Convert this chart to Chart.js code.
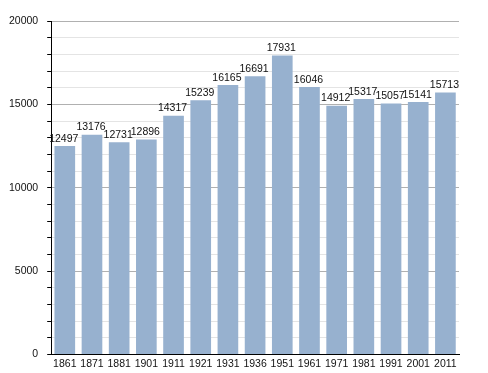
<!DOCTYPE html>
<html>
<head>
<meta charset="utf-8">
<script src="https://cdn.jsdelivr.net/npm/chart.js@4/dist/chart.umd.min.js"></script>
<style>
  html, body { margin: 0; padding: 0; background: #fff; }
  #wrap { width: 488px; height: 373px; }
</style>
</head>
<body>
<div id="wrap"><canvas id="popChart" width="488" height="373"></canvas></div>
<script>
const years = ['1861', '1871', '1881', '1901', '1911', '1921', '1931', '1936', '1951', '1961', '1971', '1981', '1991', '2001', '2011'];
const population = [12497, 13176, 12731, 12896, 14317, 15239, 16165, 16691, 17931, 16046, 14912, 15317, 15057, 15141, 15713];
const yTicks = [0, 5000, 10000, 15000, 20000];

const FONT = 'Liberation Sans, Arial, Helvetica, sans-serif';

// write the value above each bar
const valueLabels = {
  id: 'valueLabels',
  afterDatasetsDraw(chart) {
    const c = chart.ctx;
    const meta = chart.getDatasetMeta(0);
    c.save();
    c.font = '10.5px ' + FONT;
    c.fillStyle = '#111';
    c.textAlign = 'center';
    c.textBaseline = 'bottom';
    meta.data.forEach((bar, i) => {
      c.fillText(population[i], bar.x - 1, bar.y - 2);
    });
    c.restore();
  }
};

const ctx = document.getElementById('popChart').getContext('2d');
const popChart = new Chart(ctx, {
  type: 'bar',
  data: {
    labels: years,
    datasets: [{
      data: population,
      backgroundColor: '#97b1cf',
      borderWidth: 0,
      barPercentage: 0.76,
      categoryPercentage: 1.0
    }]
  },
  options: {
    responsive: false,
    animation: false,
    layout: { padding: { top: 21, right: 29, bottom: 0, left: 0 } },
    scales: {
      x: {
        grid: { display: false, drawTicks: false, tickLength: 0 },
        border: { color: '#000', width: 1 },
        ticks: { color: '#111', font: { size: 10.5, family: FONT }, padding: 3, maxRotation: 0, autoSkip: false }
      },
      y: {
        min: 0,
        max: 20000,
        beginAtZero: true,
        border: { color: '#000', width: 1 },
        grid: {
          color: (c) => (c.tick && yTicks.includes(c.tick.value)) ? '#b0b0b0' : '#e4e4e4',
          tickColor: '#000',
          tickLength: 4
        },
        ticks: {
          stepSize: 1000,
          color: '#111',
          font: { size: 10.5, family: FONT },
          padding: 9,
          callback: function(value) {
            return yTicks.includes(value) ? value : '';
          }
        }
      }
    },
    plugins: {
      legend: { display: false },
      tooltip: { enabled: false }
    }
  },
  plugins: [valueLabels]
});
</script>
</body>
</html>
